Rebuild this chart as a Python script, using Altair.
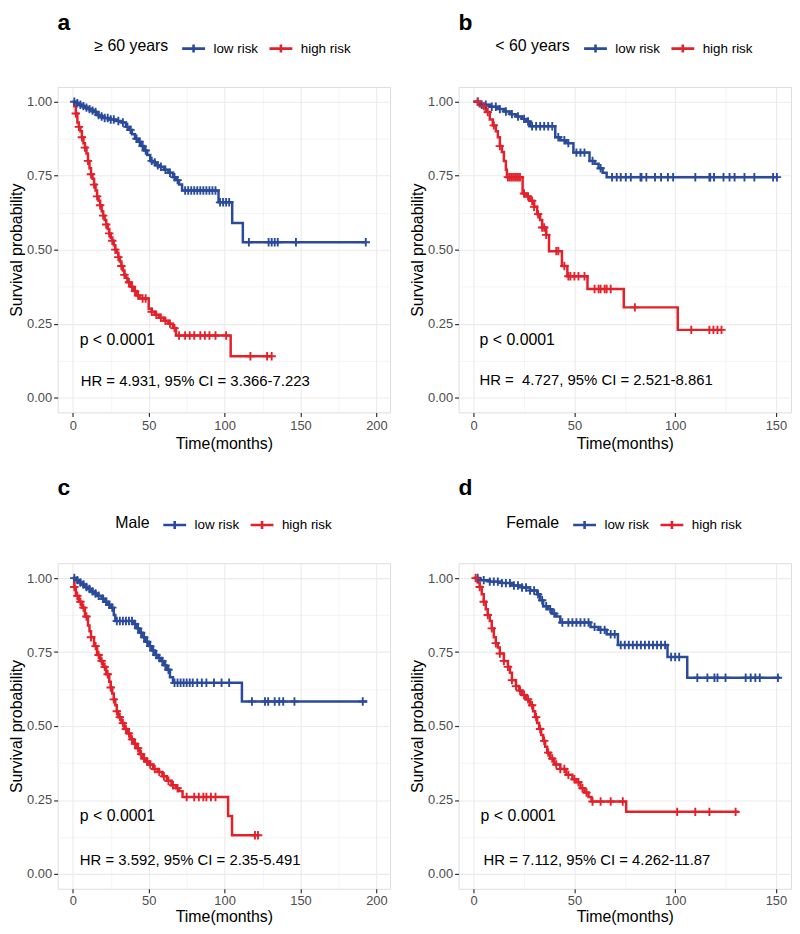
import altair as alt
import pandas as pd

FONT = "Liberation Sans"
BLUE = "#2A4B9B"
RED = "#E3212B"
GROUPS = ["low risk", "high risk"]

# ---------- panel a : >= 60 years ----------
a_low_t = [0, 2, 4, 6, 8, 10, 12, 14, 16, 18, 20, 24, 28, 32, 35, 37, 39, 41, 43, 45, 47, 49, 51, 53, 55, 57, 60, 63, 66, 68, 70, 72, 96, 105, 112]
a_low_s = [1.0, 0.995, 0.99, 0.985, 0.98, 0.975, 0.97, 0.965, 0.955, 0.95, 0.945, 0.94, 0.935, 0.93, 0.915, 0.905, 0.89, 0.875, 0.865, 0.85, 0.835, 0.82, 0.80, 0.795, 0.785, 0.78, 0.77, 0.76, 0.745, 0.735, 0.72, 0.70, 0.66, 0.59, 0.525]
a_low_end = 193
a_low_c = [1, 3, 5, 7, 9, 11, 13, 15, 17, 19, 21, 23, 25, 27, 30, 33, 36, 38, 42, 44, 46, 48, 52, 54, 56, 58, 61, 64, 67, 69, 74, 76, 78, 80, 82, 84, 86, 88, 90, 92, 94, 97, 99, 101, 103, 116, 129, 131, 133, 135, 147, 193]
a_high_t = [0, 1, 2, 3, 4, 5, 6, 7, 8, 9, 10, 11, 12, 13, 14, 15, 16, 17, 18, 19, 20, 21, 22, 23, 24, 25, 26, 27, 28, 29, 30, 31, 32, 33, 34, 35, 36, 38, 40, 42, 44, 50, 52, 54, 57, 60, 63, 66, 68, 104]
a_high_s = [1.0, 0.985, 0.96, 0.93, 0.915, 0.90, 0.88, 0.86, 0.845, 0.825, 0.80, 0.775, 0.755, 0.74, 0.72, 0.70, 0.68, 0.665, 0.65, 0.63, 0.615, 0.60, 0.585, 0.57, 0.555, 0.54, 0.53, 0.515, 0.50, 0.49, 0.475, 0.46, 0.445, 0.43, 0.415, 0.405, 0.39, 0.375, 0.36, 0.345, 0.335, 0.30, 0.29, 0.28, 0.27, 0.26, 0.25, 0.235, 0.21, 0.14]
a_high_end = 131
a_high_c = [2, 4, 6, 8, 10, 12, 14, 16, 18, 20, 22, 24, 26, 28, 30, 32, 34, 37, 39, 41, 43, 46, 48, 52, 55, 58, 61, 64, 67, 70, 74, 77, 80, 84, 87, 90, 94, 101, 117, 128, 131]

# ---------- panel b : < 60 years ----------
b_low_t = [0, 3, 8, 12, 15, 18, 21, 24, 26, 28, 40.5, 43, 46, 49.5, 57.5, 60, 62, 64, 66]
b_low_s = [1.0, 0.99, 0.983, 0.975, 0.967, 0.958, 0.95, 0.942, 0.933, 0.917, 0.88, 0.87, 0.86, 0.828, 0.80, 0.79, 0.775, 0.76, 0.745]
b_low_end = 151
b_low_c = [2, 4, 6, 9, 11, 13, 16, 19, 22, 25, 27, 29, 31, 33, 35, 37, 39, 42, 45, 47, 51, 53, 55, 59, 63, 68.7, 71, 73, 75.5, 78, 82.8, 83.3, 85.7, 90, 93, 96.4, 99, 110, 117, 117.4, 119.3, 124, 127, 129.5, 134.4, 139.3, 148.6, 150.5]
b_high_t = [0, 3, 6, 8, 9.5, 11, 12, 13, 14, 15, 16, 16.5, 24.3, 26, 28, 30, 31.5, 33, 34, 36, 37.4, 43.8, 46.5, 56.5, 74.5, 101.3]
b_high_s = [1.0, 0.985, 0.965, 0.94, 0.92, 0.90, 0.88, 0.85, 0.83, 0.80, 0.77, 0.745, 0.69, 0.68, 0.665, 0.645, 0.62, 0.60, 0.575, 0.55, 0.495, 0.445, 0.41, 0.367, 0.305, 0.229]
b_high_end = 123
b_high_c = [2, 5, 7, 10, 13, 17, 18, 19, 20, 21, 22, 23, 25, 27, 29, 30, 32, 34, 35, 36, 41, 42, 45, 47, 48, 50, 52, 55, 60, 62, 63, 65, 66, 68, 80, 108, 117, 119, 121, 123]

# ---------- panel c : Male ----------
c_low_t = [0, 2, 4, 6, 8, 10, 12, 14, 16, 19, 21, 23, 25, 27, 28, 40, 42, 44, 46, 48, 50, 52, 54, 56, 58, 60, 62, 64, 66, 111.4]
c_low_s = [1.0, 0.993, 0.985, 0.978, 0.97, 0.963, 0.955, 0.948, 0.94, 0.93, 0.92, 0.91, 0.90, 0.875, 0.855, 0.845, 0.83, 0.815, 0.80, 0.785, 0.77, 0.755, 0.74, 0.73, 0.72, 0.705, 0.69, 0.665, 0.646, 0.583]
c_low_end = 194
c_low_c = [1, 3, 5, 7, 9, 11, 13, 15, 17, 20, 22, 24, 26, 29, 31, 33, 35, 37, 39, 41, 43, 45, 47, 49, 51, 53, 55, 57, 59, 61, 63, 67, 69, 71, 73, 75, 77, 79, 82, 85, 88, 93, 98, 103, 118, 126.6, 128.7, 133, 136, 138.6, 146, 191]
c_high_t = [0, 1, 2, 4, 6, 8, 10, 11, 12, 14, 16, 18, 20, 22, 24, 25, 26, 27, 28, 29, 30, 32, 34, 36, 38, 40, 42, 44, 46, 48, 50, 53, 56, 59, 62, 65, 68, 70, 72.3, 102.3, 104.9]
c_high_s = [1.0, 0.97, 0.94, 0.92, 0.90, 0.87, 0.84, 0.82, 0.80, 0.77, 0.74, 0.72, 0.70, 0.675, 0.65, 0.63, 0.61, 0.59, 0.57, 0.55, 0.53, 0.51, 0.49, 0.475, 0.455, 0.44, 0.425, 0.405, 0.39, 0.38, 0.37, 0.355, 0.345, 0.33, 0.315, 0.30, 0.29, 0.28, 0.26, 0.196, 0.131]
c_high_end = 123
c_high_c = [1, 3, 5, 7, 9, 12, 15, 17, 19, 21, 23, 25, 27, 29, 31, 33, 35, 37, 39, 41, 43, 45, 47, 49, 51, 54, 57, 60, 63, 66, 69, 75, 80, 83, 86, 88, 91, 94, 120, 122]

# ---------- panel d : Female ----------
d_low_t = [0, 3, 8, 14, 19, 24, 28, 31.5, 33, 34.5, 37, 39, 41, 43, 58, 62, 66, 71.6, 96.2, 106]
d_low_s = [1.0, 0.993, 0.988, 0.983, 0.975, 0.968, 0.958, 0.945, 0.925, 0.905, 0.895, 0.88, 0.87, 0.85, 0.835, 0.825, 0.81, 0.774, 0.733, 0.663]
d_low_end = 152
d_low_c = [2, 5, 8, 10, 12, 14, 16, 18, 20, 22, 24, 26, 28, 30, 32, 34, 36, 38, 40, 44, 47, 49, 51, 53, 55, 57, 60, 63, 65, 68, 70, 73, 75, 77, 79, 81, 83, 85, 87, 89, 91, 93, 95, 98, 100, 102, 111, 116, 119.5, 121, 125, 135, 137.5, 139.8, 142, 151]
d_high_t = [0, 2, 3, 4, 5, 6, 7, 8, 9, 10, 11, 12, 13, 15, 17, 18, 19, 21, 22.5, 24, 26, 28, 29.5, 30.5, 31.5, 32.5, 33.5, 34.5, 35.5, 36.5, 38, 40, 43, 46, 49, 51, 53, 55, 57, 58.5, 75.7]
d_high_s = [1.0, 0.985, 0.97, 0.945, 0.92, 0.895, 0.875, 0.855, 0.83, 0.80, 0.78, 0.765, 0.745, 0.72, 0.70, 0.68, 0.655, 0.635, 0.62, 0.605, 0.59, 0.57, 0.55, 0.53, 0.51, 0.49, 0.47, 0.45, 0.43, 0.41, 0.39, 0.37, 0.355, 0.335, 0.32, 0.31, 0.29, 0.275, 0.26, 0.245, 0.21]
d_high_end = 131.5
d_high_c = [1, 3, 5, 7, 9, 11, 13, 15, 17, 19, 21, 23, 25, 27, 29, 31, 33, 35, 37, 39, 41, 43, 45, 47, 50, 52, 54, 56, 59, 63, 68, 74, 101, 110, 117, 130]

letters = ["a", "b", "c", "d"]
legend_titles = ["\u2265 60 years", "< 60 years", "Male", "Female"]
hr_texts = ["HR = 4.931, 95% CI = 3.366-7.223",
            "HR = \u00a04.727, 95% CI = 2.521-8.861",
            "HR = 3.592, 95% CI = 2.35-5.491",
            "HR = 7.112, 95% CI = 4.262-11.87"]
p_text = "p < 0.0001"
p_pos = [(4.5, 0.193), (2.9, 0.193), (4.6, 0.196), (3.4, 0.196)]
hr_pos = [(5.2, 0.057), (2.9, 0.061), (4.6, 0.047), (4.9, 0.047)]
x_domains = [(-10, 209), (-7.5, 157.5), (-10, 209), (-7.5, 157.5)]
x_ticks = [[0, 25, 50, 75, 100, 125, 150, 175, 200], [0, 25, 50, 75, 100, 125, 150],
           [0, 25, 50, 75, 100, 125, 150, 175, 200], [0, 25, 50, 75, 100, 125, 150]]
y_ticks = [0, 0.125, 0.25, 0.375, 0.5, 0.625, 0.75, 0.875, 1.0]

W = 335
H = 328
CROSS = "M-1,0L1,0M0,-1L0,1"
LEG_SYM = "M-1,0L1,0M0,-0.35L0,0.35"


def surv_at(ts, ss, t):
    s = ss[0]
    for ti, si in zip(ts, ss):
        if ti <= t:
            s = si
    return s


def panel(i, low, high, leg_x, title_off, lab_pad, tit_pad):
    curve_rows, cens_rows = [], []
    for grp, (ts, ss, end, cs) in zip(GROUPS, [low, high]):
        for t, s in zip(ts, ss):
            curve_rows.append({"time": t, "surv": s, "group": grp})
        curve_rows.append({"time": end, "surv": ss[-1], "group": grp})
        for c in cs:
            cens_rows.append({"time": c, "surv": surv_at(ts, ss, c), "group": grp})
    curves = pd.DataFrame(curve_rows)
    cens = pd.DataFrame(cens_rows)

    major_x = "datum.value % 50 == 0"
    x_axis = alt.Axis(values=x_ticks[i], title="Time(months)",
                      labelExpr=f"{major_x} ? datum.label : ''",
                      tickOpacity={"condition": {"test": major_x, "value": 1}, "value": 0},
                      gridWidth={"condition": {"test": major_x, "value": 1.1}, "value": 0.55},
                      gridColor="#EBEBEB", domain=False, tickColor="#333333", tickSize=4,
                      tickWidth=1.2, labelFontSize=13, labelColor="#4D4D4D", labelFont=FONT,
                      titleFont=FONT, titleFontSize=16, titleFontWeight="normal", titleColor="black",
                      labelPadding=lab_pad, titlePadding=tit_pad, labelOverlap=False, labelFlush=False)
    major_y = "(datum.value * 4) % 1 == 0"
    y_axis = alt.Axis(values=y_ticks, title="Survival probability", format=".2f",
                      labelExpr=f"{major_y} ? datum.label : ''",
                      tickOpacity={"condition": {"test": major_y, "value": 1}, "value": 0},
                      gridWidth={"condition": {"test": major_y, "value": 1.1}, "value": 0.55},
                      gridColor="#EBEBEB", domain=False, tickColor="#333333", tickSize=4,
                      tickWidth=1.2, labelFontSize=13, labelColor="#4D4D4D", labelFont=FONT,
                      titleFont=FONT, titleFontSize=16, titleFontWeight="normal", titleColor="black",
                      labelPadding=2, titlePadding=2, labelOverlap=False, labelFlush=False)
    x = alt.X("time:Q", scale=alt.Scale(domain=list(x_domains[i]), nice=False, zero=False), axis=x_axis)
    y = alt.Y("surv:Q", scale=alt.Scale(domain=[-0.05, 1.05], nice=False, zero=False), axis=y_axis)
    color = alt.Color("group:N",
                      scale=alt.Scale(domain=GROUPS, range=[BLUE, RED]),
                      legend=alt.Legend(title=legend_titles[i], orient="none", legendX=leg_x, legendY=-52,
                                        direction="horizontal", titleOrient="left",
                                        titleFont=FONT, titleFontSize=16, titleFontWeight="normal",
                                        titleColor="black", titleBaseline="middle", titleAnchor="middle",
                                        labelFont=FONT, labelFontSize=13.5, labelColor="black",
                                        symbolType=LEG_SYM, symbolSize=529, symbolStrokeWidth=2.6,
                                        columnPadding=5, labelOffset=7, titlePadding=12))
    line = alt.Chart(curves).mark_line(interpolate="step-after", strokeWidth=2.5).encode(
        x=x, y=y, color=color)
    pts = alt.Chart(cens).mark_point(shape=CROSS, filled=False, size=72, strokeWidth=1.9, opacity=1).encode(
        x=x, y=y, color=color)
    ptxt = alt.Chart(pd.DataFrame([{"x": p_pos[i][0], "y": p_pos[i][1], "t": p_text}])).mark_text(
        align="left", baseline="middle", font=FONT, fontSize=16, color="black").encode(
        x=alt.X("x:Q"), y=alt.Y("y:Q"), text="t:N")
    htxt = alt.Chart(pd.DataFrame([{"x": hr_pos[i][0], "y": hr_pos[i][1], "t": hr_texts[i]}])).mark_text(
        align="left", baseline="middle", font=FONT, fontSize=15, color="black").encode(
        x=alt.X("x:Q"), y=alt.Y("y:Q"), text="t:N")
    return alt.layer(line, pts, ptxt, htxt).properties(
        width=W, height=H,
        title=alt.TitleParams(text=letters[i], anchor="start", frame="group", font=FONT, fontSize=23,
                              fontWeight="bold", color="black", offset=title_off))


pa = panel(0, (a_low_t, a_low_s, a_low_end, a_low_c), (a_high_t, a_high_s, a_high_end, a_high_c), 37, 0, 3, 3)
pb = panel(1, (b_low_t, b_low_s, b_low_end, b_low_c), (b_high_t, b_high_s, b_high_end, b_high_c), 37, 0, 3, 3)
pc = panel(2, (c_low_t, c_low_s, c_low_end, c_low_c), (c_high_t, c_high_s, c_high_end, c_high_c), 58, 12, 2, 1)
pd_ = panel(3, (d_low_t, d_low_s, d_low_end, d_low_c), (d_high_t, d_high_s, d_high_end, d_high_c), 48, 12, 2, 1)

res = dict(x="independent", y="independent", color="independent")
row1 = alt.hconcat(pa, pb, spacing=18).resolve_scale(**res)
row2 = alt.hconcat(pc, pd_, spacing=18).resolve_scale(**res)
chart = alt.vconcat(row1, row2, spacing=24).resolve_scale(**res).properties(
    padding={"left": 0, "top": 0, "right": 0, "bottom": 0}
).configure_view(stroke=None).configure(background="white")

chart.save("out.html", embed_options={"renderer": "svg", "actions": False})
